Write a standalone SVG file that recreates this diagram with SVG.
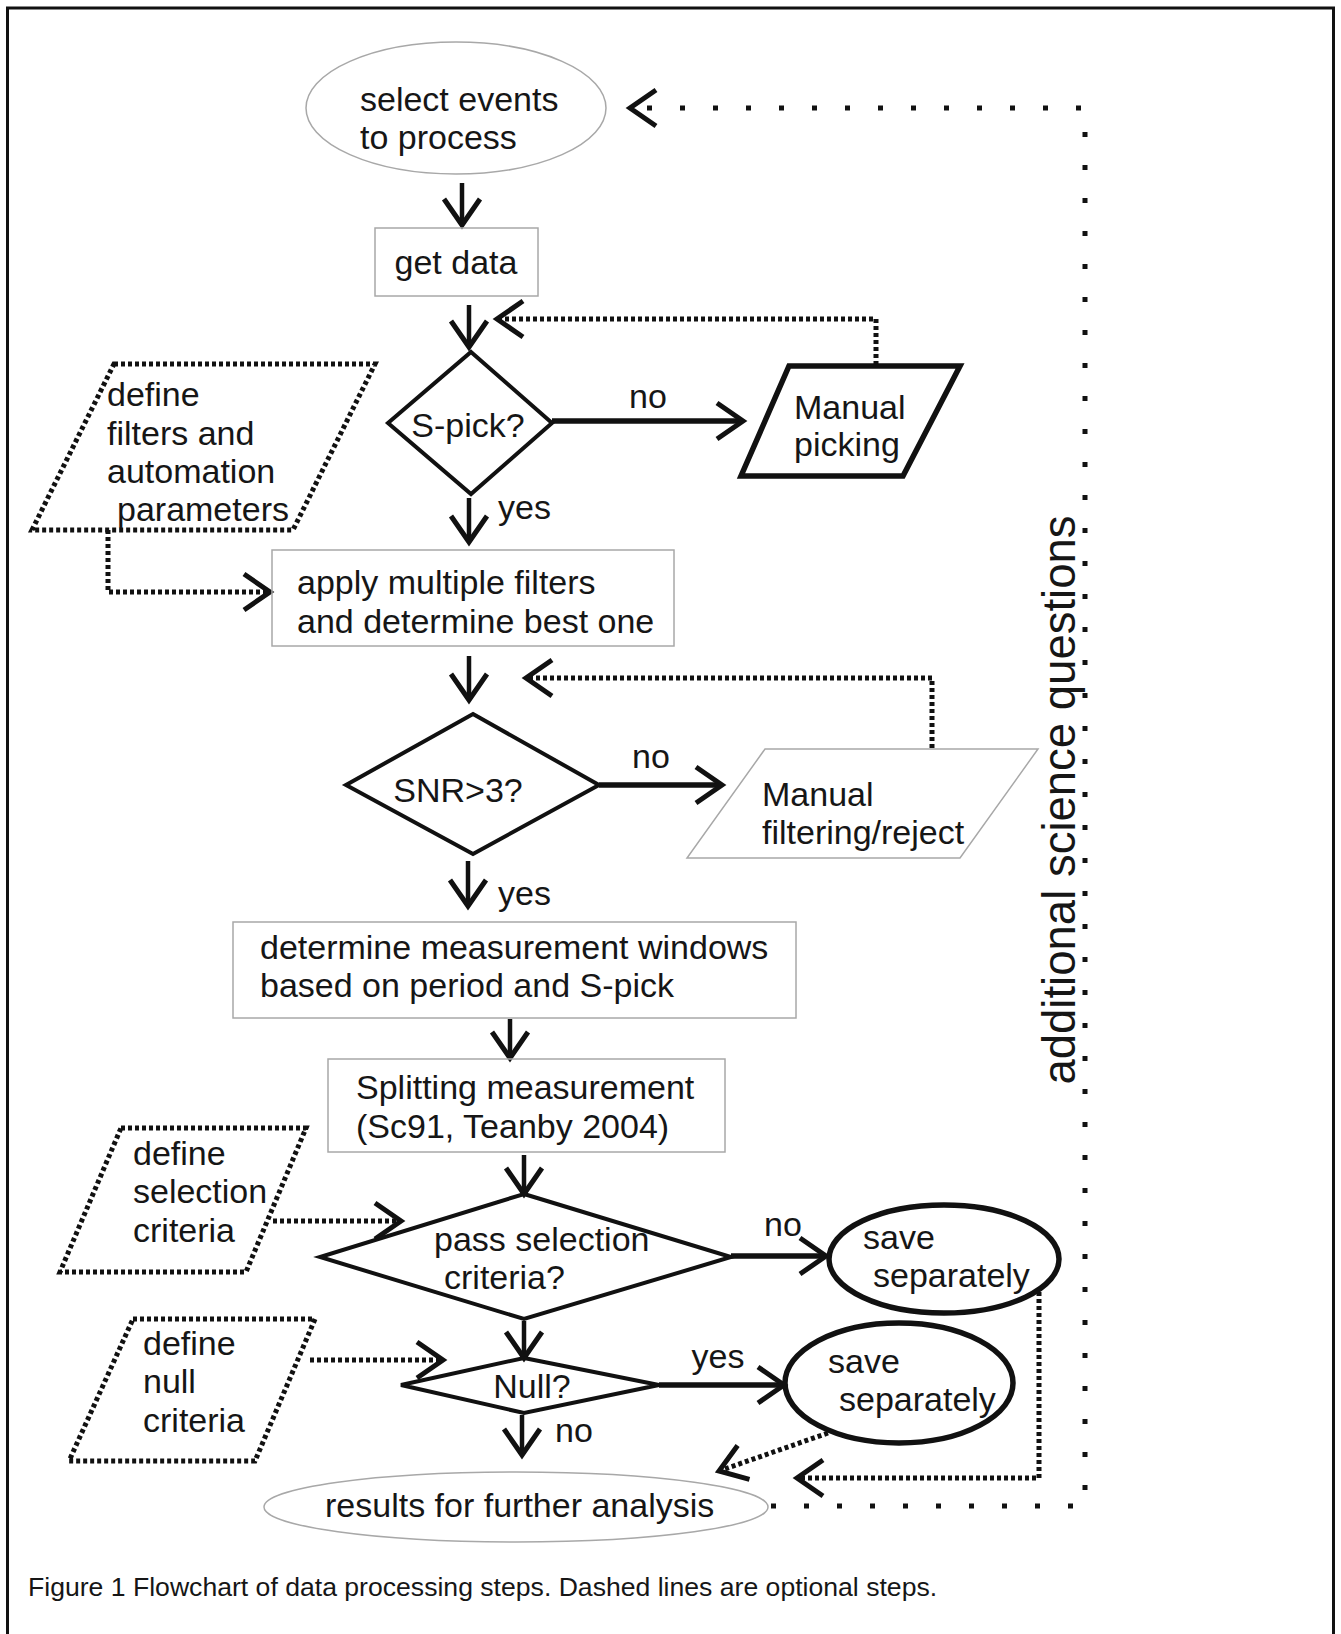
<svg xmlns="http://www.w3.org/2000/svg" width="1341" height="1634" viewBox="0 0 1341 1634">
<style>
text{font-family:"Liberation Sans",Arial,sans-serif;font-size:34px;fill:#161616}
.thin{fill:none;stroke:#a8a8a8;stroke-width:1.5}
.bold{fill:none;stroke:#111;stroke-width:4}
.heavy{fill:none;stroke:#111;stroke-width:5.5}
.dotbox{fill:none;stroke:#111;stroke-width:5;stroke-dasharray:4 3}
.arrow{fill:none;stroke:#111;stroke-width:4.5;marker-end:url(#ah)}
.arrowT{fill:none;stroke:#111;stroke-width:5.5;marker-end:url(#ah)}
.dot{fill:none;stroke:#111;stroke-width:5;stroke-dasharray:4 3;marker-end:url(#ah)}
.sparse{fill:none;stroke:#111;stroke-width:5;stroke-dasharray:5 28;marker-end:url(#ah)}
</style>
<defs>
<marker id="ah" markerUnits="userSpaceOnUse" viewBox="0 0 32 38" markerWidth="32" markerHeight="38" refX="28" refY="19" orient="auto" overflow="visible">
<path d="M2,1 L28,19 L2,37" fill="none" stroke="#111" stroke-width="5"/>
</marker>
</defs>
<rect x="7.5" y="8" width="1326" height="1660" fill="#fff" stroke="#111" stroke-width="3"/>

<g id="connectors">
<path class="arrow" d="M462,183 V225"/>
<path class="arrow" d="M469,305 V347"/>
<path class="dot" d="M876,365 V319 H497"/>
<path class="arrowT" d="M552,421 H743"/>
<path class="arrow" d="M469,498 V542"/>
<path class="dot" d="M108,530 V592 H270"/>
<path class="arrow" d="M469,656 V700"/>
<path class="dot" d="M932,748 V678 H526"/>
<path class="arrowT" d="M599,785 H722"/>
<path class="arrow" d="M468,861 V906"/>
<path class="arrow" d="M510,1019 V1058"/>
<path class="arrow" d="M524,1155 V1194"/>
<path class="dot" d="M273,1221 H401"/>
<path class="arrowT" d="M731,1256 H826"/>
<path class="arrow" d="M524,1321 V1358"/>
<path class="dot" d="M310,1360 H443"/>
<path class="arrowT" d="M659,1385 H784"/>
<path class="arrow" d="M522,1415 V1455"/>
<path class="dot" d="M828,1433 L719,1471"/>
<path class="dot" d="M1039,1292 V1478 H797"/>
<path class="sparse" d="M771,1506 H1085 V108 H630"/>
<text x="648" y="408" text-anchor="middle">no</text>
<text x="498" y="519">yes</text>
<text x="651" y="768" text-anchor="middle">no</text>
<text x="498" y="905">yes</text>
<text x="783" y="1236" text-anchor="middle">no</text>
<text x="718" y="1368" text-anchor="middle">yes</text>
<text x="555" y="1442">no</text>
<text transform="translate(1075,800) rotate(-90)" text-anchor="middle" style="font-size:45.5px">additional science questions</text>
</g>

<g id="select-events">
<ellipse class="thin" cx="456" cy="108" rx="150" ry="66"/>
<text x="360" y="111">select events</text>
<text x="360" y="149">to process</text>
</g>

<g id="get-data">
<rect class="thin" x="375" y="228" width="163" height="68"/>
<text x="456" y="274" text-anchor="middle">get data</text>
</g>

<g id="s-pick">
<polygon class="bold" points="471,352 552,423 471,494 388,423"/>
<text x="468" y="437" text-anchor="middle">S-pick?</text>
</g>

<g id="manual-picking">
<polygon class="heavy" points="789,366 960,366 903,476 741,476"/>
<text x="794" y="419">Manual</text>
<text x="794" y="456">picking</text>
</g>

<g id="define-filters">
<polygon class="dotbox" points="114,364 375,364 293,530 32,530"/>
<text x="107" y="406">define</text>
<text x="107" y="445">filters and</text>
<text x="107" y="483">automation</text>
<text x="117" y="521">parameters</text>
</g>

<g id="apply-filters">
<rect class="thin" x="272" y="550" width="402" height="96"/>
<text x="297" y="594">apply multiple filters</text>
<text x="297" y="633">and determine best one</text>
</g>

<g id="snr">
<polygon class="bold" points="473,714 599,785 473,854 346,785"/>
<text x="458" y="802" text-anchor="middle">SNR&gt;3?</text>
</g>

<g id="manual-filtering">
<polygon class="thin" points="765,749 1038,749 960,858 687,858"/>
<text x="762" y="806">Manual</text>
<text x="762" y="844">filtering/reject</text>
</g>

<g id="determine-windows">
<rect class="thin" x="233" y="922" width="563" height="96"/>
<text x="260" y="959">determine measurement windows</text>
<text x="260" y="997">based on period and S-pick</text>
</g>

<g id="splitting">
<rect class="thin" x="328" y="1059" width="397" height="93"/>
<text x="356" y="1099">Splitting measurement</text>
<text x="356" y="1138">(Sc91, Teanby 2004)</text>
</g>

<g id="define-selection">
<polygon class="dotbox" points="121,1128 306,1128 246,1272 60,1272"/>
<text x="133" y="1165">define</text>
<text x="133" y="1203">selection</text>
<text x="133" y="1242">criteria</text>
</g>

<g id="pass-selection">
<polygon class="bold" points="524,1194 731,1257 524,1319 320,1257"/>
<text x="434" y="1251">pass selection</text>
<text x="444" y="1289">criteria?</text>
</g>

<g id="save-separately-1">
<ellipse class="heavy" cx="944" cy="1259" rx="115" ry="54"/>
<text x="863" y="1249">save</text>
<text x="873" y="1287">separately</text>
</g>

<g id="define-null">
<polygon class="dotbox" points="133,1319 315,1319 255,1461 69,1461"/>
<text x="143" y="1355">define</text>
<text x="143" y="1393">null</text>
<text x="143" y="1432">criteria</text>
</g>

<g id="null">
<polygon class="bold" points="524,1358 659,1385 524,1413 401,1385"/>
<text x="532" y="1398" text-anchor="middle">Null?</text>
</g>

<g id="save-separately-2">
<ellipse class="heavy" cx="899" cy="1383" rx="114" ry="60"/>
<text x="828" y="1373">save</text>
<text x="839" y="1411">separately</text>
</g>

<g id="results">
<ellipse class="thin" cx="516" cy="1507" rx="252" ry="35"/>
<text x="325" y="1517">results for further analysis</text>
</g>

<text x="28" y="1596" style="font-size:26.6px">Figure 1 Flowchart of data processing steps. Dashed lines are optional steps.</text>
</svg>
